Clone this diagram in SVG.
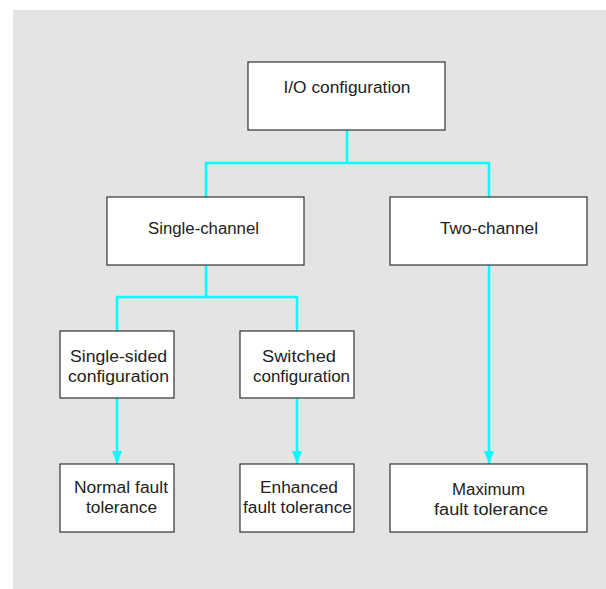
<svg xmlns="http://www.w3.org/2000/svg" width="606" height="589" viewBox="0 0 606 589">
<style>
.box{fill:#fff;stroke:#333;stroke-width:1.2}
.t{font-family:"Liberation Sans",Arial,sans-serif;font-size:16px;fill:#222;text-anchor:middle}
.c{fill:none;stroke:#00ffff;stroke-width:2.5}
</style>
<defs>
<marker id="ah" markerWidth="13" markerHeight="10" refX="13" refY="5" orient="auto" markerUnits="userSpaceOnUse" viewBox="0 0 13 10">
<path d="M0,0 L13,5 L0,10 Z" fill="#00ffff"/>
</marker>
</defs>
<rect x="13" y="10" width="593" height="579" fill="#e4e4e4"/>
<g id="connectors">
<path class="c" d="M347,130 V163 M206,197 V163 H489 V197"/>
<path class="c" d="M206,265 V297 M117,331 V297 H297 V331"/>
<path class="c" d="M117,398 V464" marker-end="url(#ah)"/>
<path class="c" d="M297,398 V464" marker-end="url(#ah)"/>
<path class="c" d="M489,265 V464" marker-end="url(#ah)"/>
</g>
<g id="io"><rect class="box" x="248" y="62" width="197" height="68"/><text class="t" x="347" y="93" textLength="127" lengthAdjust="spacingAndGlyphs">I/O configuration</text></g>
<g id="single"><rect class="box" x="107" y="197" width="197" height="68"/><text class="t" x="203.5" y="234" textLength="111" lengthAdjust="spacingAndGlyphs">Single-channel</text></g>
<g id="two"><rect class="box" x="390" y="197" width="197" height="68"/><text class="t" x="489" y="234" textLength="98" lengthAdjust="spacingAndGlyphs">Two-channel</text></g>
<g id="singlesided"><rect class="box" x="60" y="331" width="114" height="67"/><text class="t" x="118.5" y="362" textLength="97" lengthAdjust="spacingAndGlyphs">Single-sided</text><text class="t" x="118.5" y="382" textLength="101" lengthAdjust="spacingAndGlyphs">configuration</text></g>
<g id="switched"><rect class="box" x="240" y="331" width="114" height="67"/><text class="t" x="299" y="362" textLength="74" lengthAdjust="spacingAndGlyphs">Switched</text><text class="t" x="301.5" y="382" textLength="97" lengthAdjust="spacingAndGlyphs">configuration</text></g>
<g id="normal"><rect class="box" x="60" y="464" width="114" height="68"/><text class="t" x="121" y="493" textLength="94" lengthAdjust="spacingAndGlyphs">Normal fault</text><text class="t" x="121.5" y="513" textLength="71" lengthAdjust="spacingAndGlyphs">tolerance</text></g>
<g id="enhanced"><rect class="box" x="240" y="464" width="114" height="68"/><text class="t" x="299" y="493" textLength="78" lengthAdjust="spacingAndGlyphs">Enhanced</text><text class="t" x="297.5" y="513" textLength="109" lengthAdjust="spacingAndGlyphs">fault tolerance</text></g>
<g id="maximum"><rect class="box" x="390" y="464" width="197" height="68"/><text class="t" x="488.5" y="495" textLength="73" lengthAdjust="spacingAndGlyphs">Maximum</text><text class="t" x="491" y="515" textLength="114" lengthAdjust="spacingAndGlyphs">fault tolerance</text></g>
</svg>
